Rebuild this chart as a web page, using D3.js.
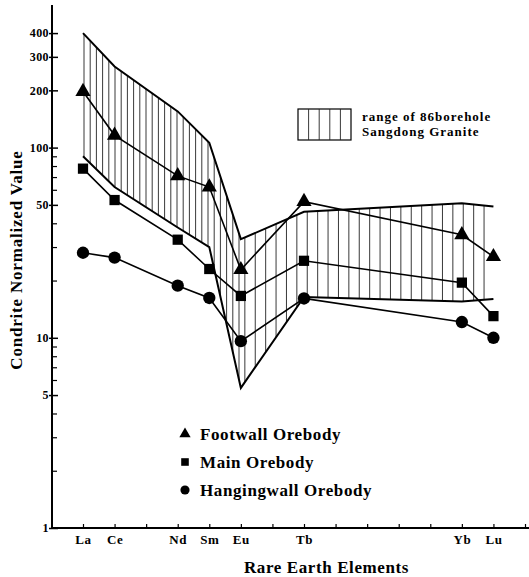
<!DOCTYPE html>
<html>
<head>
<meta charset="utf-8">
<script src="https://cdn.jsdelivr.net/npm/d3@7"></script>
<style>
  body { margin: 0; background: #fff; }
  svg text { font-family: "Liberation Serif", "Times New Roman", serif; font-weight: bold; fill: #000; }
</style>
</head>
<body>
<div id="figure-holder"></div>
<script>
// REE positions along the x axis (plus one trailing tick)
const elements = ["La", "Ce", "Pr", "Nd", "Sm", "Eu", "Gd", "Tb", "Dy", "Ho", "Er", "Tm", "Yb", "Lu", "end"];
const labeled = ["La", "Ce", "Nd", "Sm", "Eu", "Tb", "Yb", "Lu"];

// chondrite normalized values, one per labeled element
const footwall = [197, 116, 71, 62, 22.8, 52, 34.8, 26.7];
const mainOre = [77.5, 53, 32.8, 23, 16.6, 25.4, 19.5, 13];
const hanging = [28, 26.4, 18.8, 16.2, 9.6, 16.1, 12.1, 10];

// range of 86 borehole Sangdong granite
const rangeUpper = [400, 267, 155, 106, 33, 46, 51, 49];
const rangeLower = [90, 62, 38, 30, 5.45, 16.4, 15.5, 16];

const yMajor = [1, 5, 10, 50, 100, 200, 300, 400];
const yMinor = [2, 3, 4, 6, 7, 8, 9, 20, 30, 40, 60, 70, 80, 90];

const W = 529, H = 577;
const svg = d3.select('#figure-holder').append('svg')
    .attr('width', W)
    .attr('height', H);

const x = d3.scalePoint()
    .domain(elements)
    .range([83, 525]);

const y = d3.scaleLog()
    .domain([1, 562])
    .range([528, 5]);

const axisX = 52, axisY = 528;

// hatched range area
const rangePts = labeled.map((e, i) => ({ e, hi: rangeUpper[i], lo: rangeLower[i] }));
const area = d3.area()
    .x(d => x(d.e))
    .y0(d => y(d.lo))
    .y1(d => y(d.hi));

svg.append('clipPath').attr('id', 'range-clip')
    .append('path').attr('d', area(rangePts));

// hatch spacing is tighter on the LREE side, wider after Eu
const hatchX = d3.range(x('La') + 1, x('Eu'), 6.2)
    .concat(d3.range(x('Eu') + 4, x('Lu') + 1, 10.4));
svg.append('g')
    .attr('clip-path', 'url(#range-clip)')
    .selectAll('line')
    .data(hatchX)
    .join('line')
    .attr('x1', d => d).attr('x2', d => d)
    .attr('y1', 0).attr('y2', axisY)
    .attr('stroke', '#222')
    .attr('stroke-width', 0.9);

// range boundaries
const edge = d3.line().x(d => x(d.e)).y(d => d.v);
svg.append('path')
    .attr('d', edge(rangePts.map(d => ({ e: d.e, v: y(d.hi) }))))
    .attr('fill', 'none').attr('stroke', '#000').attr('stroke-width', 2);
svg.append('path')
    .attr('d', edge(rangePts.map(d => ({ e: d.e, v: y(d.lo) }))))
    .attr('fill', 'none').attr('stroke', '#000').attr('stroke-width', 2);

// axes
const gy = svg.append('g').attr('transform', `translate(${axisX},0)`);
gy.call(d3.axisLeft(y).tickValues(yMajor).tickFormat(d3.format('d'))
    .tickSizeInner(-6).tickSizeOuter(0).tickPadding(3));
gy.select('.domain').remove();
gy.selectAll('.tick line').attr('x1', -3).attr('stroke-width', 1.5);
gy.selectAll('.tick text').style('font-size', '12px').style('letter-spacing', '0.4px');

const gyMinor = svg.append('g').attr('transform', `translate(${axisX},0)`);
gyMinor.call(d3.axisLeft(y).tickValues(yMinor).tickFormat('').tickSizeInner(-5).tickSizeOuter(0));
gyMinor.select('.domain').remove();
gyMinor.selectAll('.tick line').attr('stroke-width', 1.2);

const gx = svg.append('g').attr('transform', `translate(0,${axisY})`);
gx.call(d3.axisBottom(x).tickFormat(d => labeled.includes(d) ? d : '')
    .tickSizeInner(-4).tickSizeOuter(0).tickPadding(7));
gx.select('.domain').remove();
gx.selectAll('.tick line').attr('stroke-width', 1.2);
gx.selectAll('.tick text').style('font-size', '13px').style('letter-spacing', '0.6px');

svg.append('line')
    .attr('x1', axisX).attr('x2', axisX).attr('y1', 5).attr('y2', axisY + 1)
    .attr('stroke', '#000').attr('stroke-width', 2);
svg.append('line')
    .attr('x1', axisX - 1).attr('x2', W).attr('y1', axisY).attr('y2', axisY)
    .attr('stroke', '#000').attr('stroke-width', 2);

// series
const series = [
    { name: 'Footwall Orebody', values: footwall, shape: d3.symbolTriangle, size: 100 },
    { name: 'Main Orebody', values: mainOre, shape: d3.symbolSquare, size: 105 },
    { name: 'Hangingwall Orebody', values: hanging, shape: d3.symbolCircle, size: 120 }
];

const line = d3.line().x(d => x(d.e)).y(d => y(d.v));
series.forEach(s => {
    const pts = labeled.map((e, i) => ({ e, v: s.values[i] }));
    svg.append('path')
        .attr('d', line(pts))
        .attr('fill', 'none').attr('stroke', '#000').attr('stroke-width', 1.6);
    svg.append('g').selectAll('path')
        .data(pts)
        .join('path')
        .attr('transform', d => `translate(${x(d.e)},${y(d.v)})`)
        .attr('d', d3.symbol().type(s.shape).size(s.size))
        .attr('fill', '#000');
});

// range legend
const lg = svg.append('g').attr('transform', 'translate(298,109)');
lg.append('rect').attr('width', 53).attr('height', 31)
    .attr('fill', 'none').attr('stroke', '#000').attr('stroke-width', 1.2);
lg.selectAll('line.h').data(d3.range(1, 5)).join('line')
    .attr('x1', d => d * 10.6).attr('x2', d => d * 10.6)
    .attr('y1', 0).attr('y2', 31)
    .attr('stroke', '#222').attr('stroke-width', 0.9);
lg.append('text').attr('x', 64).attr('y', 12).style('font-size', '13px')
    .style('letter-spacing', '1px').text('range of 86borehole');
lg.append('text').attr('x', 64).attr('y', 27).style('font-size', '13px')
    .style('letter-spacing', '1px').text('Sangdong Granite');

// series legend
const sl = svg.append('g');
series.forEach((s, i) => {
    const yy = 434 + i * 28;
    sl.append('path')
        .attr('transform', `translate(185,${yy})`)
        .attr('d', d3.symbol().type(s.shape).size(s.size * 0.55))
        .attr('fill', '#000');
    sl.append('text').attr('x', 200).attr('y', yy + 6)
        .style('font-size', '17px').style('letter-spacing', '0.6px').text(s.name);
});

// axis titles
svg.append('text')
    .attr('x', (axisX + W) / 2 + 36).attr('y', 573)
    .attr('text-anchor', 'middle')
    .style('font-size', '17px').style('letter-spacing', '0.6px')
    .text('Rare Earth Elements');

svg.append('text')
    .attr('transform', 'translate(22,260) rotate(-90)')
    .attr('text-anchor', 'middle')
    .style('font-size', '17px').style('letter-spacing', '0.8px')
    .text('Condrite Normalized Value');
</script>
</body>
</html>
